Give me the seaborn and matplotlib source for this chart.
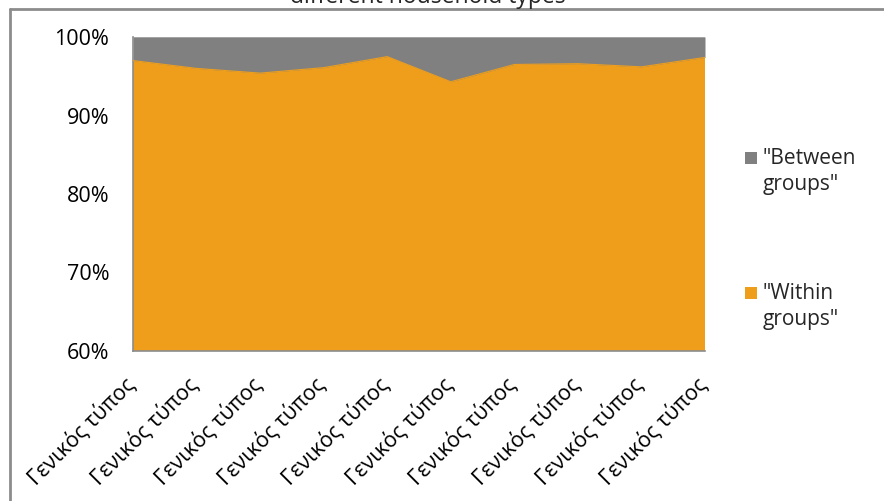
import numpy as np
import pandas as pd
import matplotlib
matplotlib.use("Agg")
import matplotlib.pyplot as plt
from matplotlib.patches import Rectangle
from matplotlib.lines import Line2D
import matplotlib.transforms as mtransforms
import seaborn as sns

# data (share of inequality, %)
categories = ["Γενικός τύπος"] * 10
within_groups = [97.0, 96.0, 95.4, 96.1, 97.5, 94.3, 96.5, 96.6, 96.2, 97.4]
between_groups = [100 - v for v in within_groups]
legend_labels = ['"Between\ngroups"', '"Within\ngroups"']
title = "different household types"

ORANGE = "#EE9E1B"
GREY = "#808080"
AXIS = "#8C8C8C"

sns.set_theme(style="white")
plt.rcParams["font.family"] = ["Open Sans", "DejaVu Sans"]

df = pd.DataFrame({"pos": np.arange(len(categories)),
                   "within": within_groups,
                   "between": between_groups})

fig = plt.figure(figsize=(8.84, 5.01), dpi=100)
ax = fig.add_axes([133 / 884, 1 - 351 / 501, 572 / 884, 314 / 501])

ax.stackplot(df["pos"], df["within"], df["between"],
             colors=[ORANGE, GREY], linewidth=0, zorder=2)
sns.lineplot(data=df, x="pos", y="within", ax=ax, color=ORANGE,
             linewidth=0.8, zorder=3)

ax.set_xlim(0, len(categories) - 1)
ax.set_ylim(60, 100)
ax.set_yticks([60, 70, 80, 90, 100])
ax.set_yticklabels([f"{v}%" for v in [60, 70, 80, 90, 100]], fontsize=15.5)
ax.set_xticks(df["pos"])
ax.set_xticklabels(categories, rotation=45, ha="right",
                   rotation_mode="anchor", fontsize=15.5)
ax.set_xlabel("")
ax.set_ylabel("")

# only the 100% gridline shows above the fill
ax.axhline(100, color="#BFBFBF", linewidth=1.2, zorder=1)

sns.despine(ax=ax, top=True, right=True)
for side in ["left", "bottom"]:
    ax.spines[side].set_color(AXIS)
    ax.spines[side].set_linewidth(1.2)
ax.tick_params(axis="both", direction="out", length=7, width=1.2,
               color=AXIS, labelcolor="black")
ax.tick_params(axis="y", pad=10)
ax.tick_params(axis="x", pad=9.5)
shift = mtransforms.ScaledTranslation(-0.09, 0, fig.dpi_scale_trans)
for lab in ax.get_xticklabels():
    lab.set_transform(lab.get_transform() + shift)

# legend: square aligned with the first line of each label
legend_colors = [GREY, ORANGE]
legend_tops = [1 - 151 / 501, 1 - 286 / 501]
for lbl, col, top in zip(legend_labels, legend_colors, legend_tops):
    fig.add_artist(Rectangle((745 / 884, top - 13 / 501), 12 / 884, 12 / 501,
                             transform=fig.transFigure, facecolor=col,
                             edgecolor="none"))
    fig.text(763 / 884, top + 3 / 501, lbl, ha="left", va="top",
             fontsize=15, linespacing=1.3)

# chart border (left and top edges) and clipped title
fig.add_artist(Line2D([10 / 884, 10 / 884], [0, 1 - 9 / 501],
                      transform=fig.transFigure, color=AXIS, linewidth=2))
fig.add_artist(Line2D([10 / 884, 1], [1 - 9 / 501, 1 - 9 / 501],
                      transform=fig.transFigure, color=AXIS, linewidth=2))
fig.text(0.484, 1.006, title, ha="center", va="center", fontsize=16.5)

fig.savefig("out.png", dpi=100)
